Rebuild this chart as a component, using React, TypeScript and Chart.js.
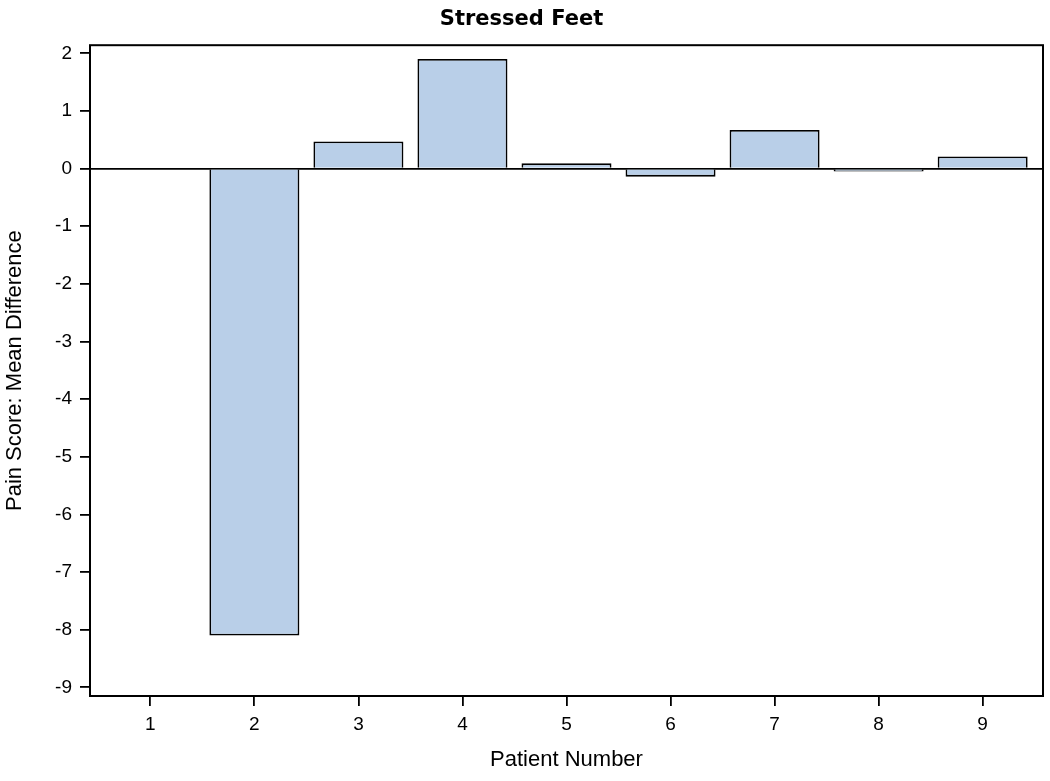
import React, { useEffect, useRef } from "react";
import { Chart, registerables } from "chart.js";

Chart.register(...registerables);

const patients = [1, 2, 3, 4, 5, 6, 7, 8, 9];
const meanDiff: (number | null)[] = [null, -8.1, 0.47, 1.9, 0.09, -0.14, 0.67, -0.05, 0.21];
const yTicks = [2, 1, 0, -1, -2, -3, -4, -5, -6, -7, -8, -9];

const framePlugin = {
  id: "frame",
  afterDraw(chart: any) {
    const { ctx, chartArea } = chart;
    ctx.save();
    ctx.strokeStyle = "#000";
    ctx.lineWidth = 2;
    ctx.strokeRect(chartArea.left, chartArea.top, chartArea.right - chartArea.left, chartArea.bottom - chartArea.top);
    ctx.restore();
  },
};

export default function App() {
  const ref = useRef<HTMLCanvasElement | null>(null);
  useEffect(() => {
    document.body.style.margin = "0";
    const font = "'Liberation Sans', Arial, sans-serif";
    const chart = new Chart(ref.current!, {
      type: "bar",
      data: {
        datasets: [
          {
            data: patients.map((p, i) => ({ x: p, y: meanDiff[i] })) as any,
            backgroundColor: "#b9cfe8",
            borderColor: "#000",
            borderWidth: 1.8,
            barPercentage: 0.865,
            categoryPercentage: 1,
          },
        ],
      },
      options: {
        responsive: false,
        animation: false,
        layout: { padding: { top: 0, right: 7, left: 0, bottom: 0 } },
        plugins: {
          legend: { display: false },
          tooltip: { enabled: false },
          title: {
            display: true,
            text: "Stressed Feet",
            color: "#000",
            font: { family: "'DejaVu Sans', Verdana, sans-serif", size: 21, weight: "bold" },
            padding: { top: 7, bottom: 13 },
          },
        },
        scales: {
          x: {
            type: "linear",
            offset: false,
            min: 0.42,
            max: 9.58,
            afterBuildTicks: (s: any) => {
              s.ticks = patients.map((v) => ({ value: v }));
            },
            afterFit: (s: any) => {
              s.height = 85;
            },
            grid: { drawOnChartArea: false, offset: false, tickColor: "#000", tickLength: 10, lineWidth: 1.8 },
            border: { display: false },
            ticks: { color: "#000", font: { family: font, size: 19 }, padding: 7, autoSkip: false, maxRotation: 0 },
            title: {
              display: true,
              text: "Patient Number",
              color: "#000",
              font: { family: font, size: 22 },
              padding: { top: 0, bottom: 8 },
            },
          },
          y: {
            type: "linear",
            min: -9.15,
            max: 2.14,
            afterBuildTicks: (s: any) => {
              s.ticks = yTicks.map((v) => ({ value: v }));
            },
            afterFit: (s: any) => {
              s.width = 90;
            },
            grid: {
              color: (c: any) => (c.tick && c.tick.value === 0 ? "#000" : "transparent"),
              tickColor: "#000",
              tickLength: 10,
              lineWidth: 1.8,
            },
            border: { display: false },
            ticks: { color: "#000", font: { family: font, size: 19 }, padding: 8 },
            title: {
              display: true,
              text: "Pain Score: Mean Difference",
              color: "#000",
              font: { family: font, size: 22 },
              padding: { top: 2, bottom: 0 },
            },
          },
        },
      },
      plugins: [framePlugin],
    } as any);
    return () => chart.destroy();
  }, []);
  return <canvas ref={ref} width={1050} height={781} style={{ display: "block" }} />;
}
